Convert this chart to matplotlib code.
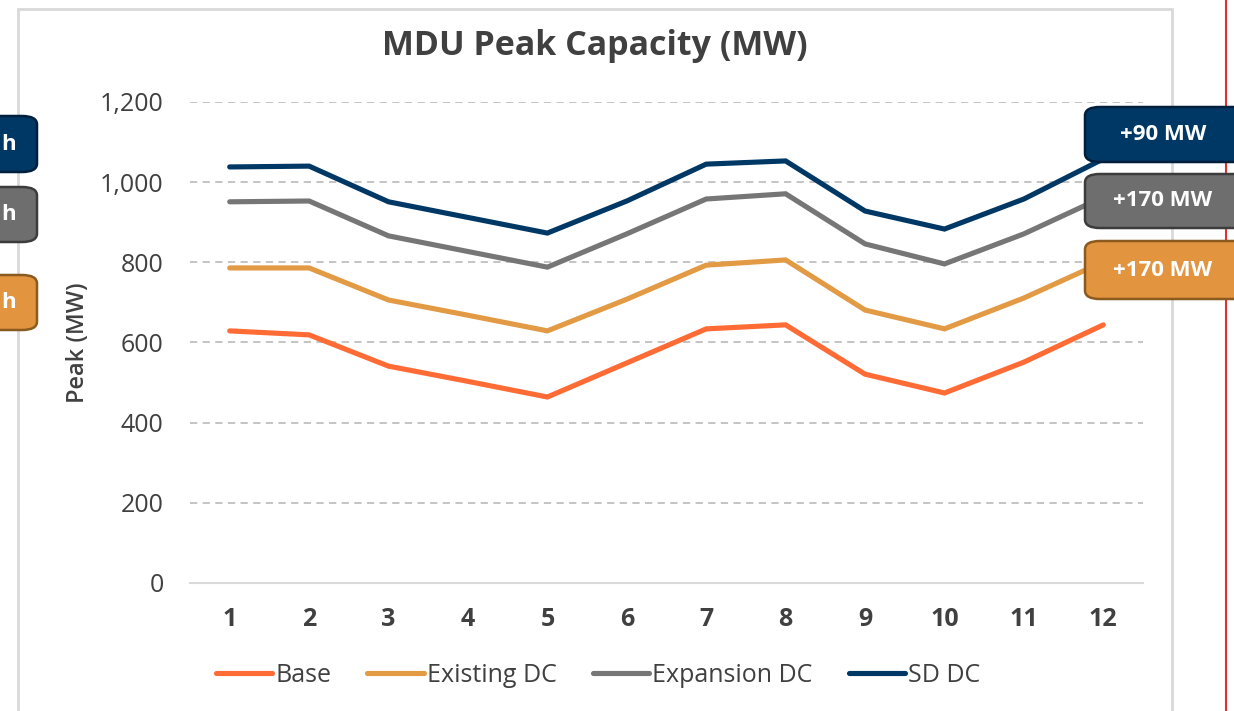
import numpy as np
import matplotlib
matplotlib.use("Agg")
import matplotlib.pyplot as plt
from matplotlib.patches import FancyBboxPatch, Rectangle
from matplotlib.lines import Line2D

plt.rcParams['font.family'] = ['Open Sans', 'DejaVu Sans']

months = np.arange(1, 13)
base = [629, 619, 541, 503, 464, 549, 634, 644, 521, 474, 551, 644]
existing = [786, 786, 706, 668, 629, 708, 793, 806, 681, 634, 711, 801]
expansion = [951, 953, 866, 827, 788, 871, 958, 971, 846, 796, 871, 963]
sd_dc = [1038, 1040, 951, 912, 873, 953, 1045, 1053, 928, 883, 958, 1058]

series_names = ['Base', 'Existing DC', 'Expansion DC', 'SD DC']
series_colors = ['#FF6B35', '#E39A44', '#767676', '#003865']

right_labels = ['+90 MW', '+170 MW', '+170 MW']
left_labels = ['h', 'h', 'h']   # only the tail of these labels is visible
box_faces = ['#003865', '#6E6E6E', '#E3943F']
box_edges = ['#001F3D', '#3C3C3C', '#8A5A1E']

W, H = 1234, 711
fig = plt.figure(figsize=(W / 100, H / 100), dpi=100)


def fx(x):
    return x / W


def fy(y):
    return 1 - y / H


# chart frame and red page line
fig.patches.append(Rectangle((fx(18), fy(760)), fx(1172) - fx(18), fy(9) - fy(760),
                             transform=fig.transFigure, fill=False,
                             edgecolor='#D9D9D9', lw=2, zorder=0))
fig.add_artist(Line2D([fx(1226), fx(1226)], [0, 1], transform=fig.transFigure,
                      color='#E03030', lw=1.5))

ax = fig.add_axes([fx(190), fy(583), fx(1143) - fx(190), fy(102) - fy(583)])
for vals, name, col in zip([base, existing, expansion, sd_dc], series_names, series_colors):
    ax.plot(months, vals, color=col, lw=3.7, label=name, solid_capstyle='round',
            solid_joinstyle='miter')

ax.set_xlim(0.5, 12.5)
ax.set_ylim(0, 1200)
ax.set_xticks(months)
ax.set_yticks(np.arange(0, 1201, 200))
ax.yaxis.set_major_formatter(matplotlib.ticker.FuncFormatter(lambda v, p: f'{int(v):,}'))
ax.tick_params(axis='both', length=0, labelsize=18, colors='#404040')
ax.tick_params(axis='x', pad=17)
ax.tick_params(axis='y', pad=19)
for t in ax.get_xticklabels():
    t.set_fontweight('bold')
ax.grid(axis='y', color='#BFBFBF', ls=(0, (4, 3)), lw=1.3)
ax.set_axisbelow(True)
for s in ['top', 'right', 'left']:
    ax.spines[s].set_visible(False)
ax.spines['bottom'].set_color('#D9D9D9')
ax.spines['bottom'].set_linewidth(1.5)
ax.set_ylabel('Peak (MW)', fontsize=17, fontweight='semibold', color='#404040', labelpad=7)

fig.text(fx(595), fy(46), 'MDU Peak Capacity (MW)', ha='center', va='center',
         fontsize=24.5, fontweight='bold', color='#404040')

fig.legend(loc='center', bbox_to_anchor=(fx(598), fy(675)), ncol=4, frameon=False,
           handlelength=2.25, handletextpad=0.12, columnspacing=1.45,
           labelcolor='#404040', prop={'size': 18, 'weight': 'medium'})

# callout boxes on the right
right_tops = [107, 174, 241]
right_bottoms = [162, 228, 299]
for lab, t, b, fc, ec in zip(right_labels, right_tops, right_bottoms, box_faces, box_edges):
    fig.patches.append(FancyBboxPatch((fx(1085), fy(b)), fx(1260) - fx(1085), fy(t) - fy(b),
                                      boxstyle='round,pad=0,rounding_size=0.012',
                                      transform=fig.transFigure, facecolor=fc,
                                      edgecolor=ec, lw=1.8, zorder=5))
    fig.text(fx(1163), fy((t + b) / 2), lab, ha='center', va='center', color='white',
             fontsize=16, fontweight='bold', zorder=6)

# cut-off callout boxes on the left
left_tops = [116, 187, 275]
left_bottoms = [172, 242, 330]
for lab, t, b, fc, ec in zip(left_labels, left_tops, left_bottoms, box_faces, box_edges):
    fig.patches.append(FancyBboxPatch((fx(-150), fy(b)), fx(37) - fx(-150), fy(t) - fy(b),
                                      boxstyle='round,pad=0,rounding_size=0.012',
                                      transform=fig.transFigure, facecolor=fc,
                                      edgecolor=ec, lw=1.8, zorder=5))
    fig.text(fx(1), fy((t + b) / 2), lab, ha='left', va='center', color='white',
             fontsize=16, fontweight='bold', zorder=6)

fig.savefig('out.png', dpi=100)
